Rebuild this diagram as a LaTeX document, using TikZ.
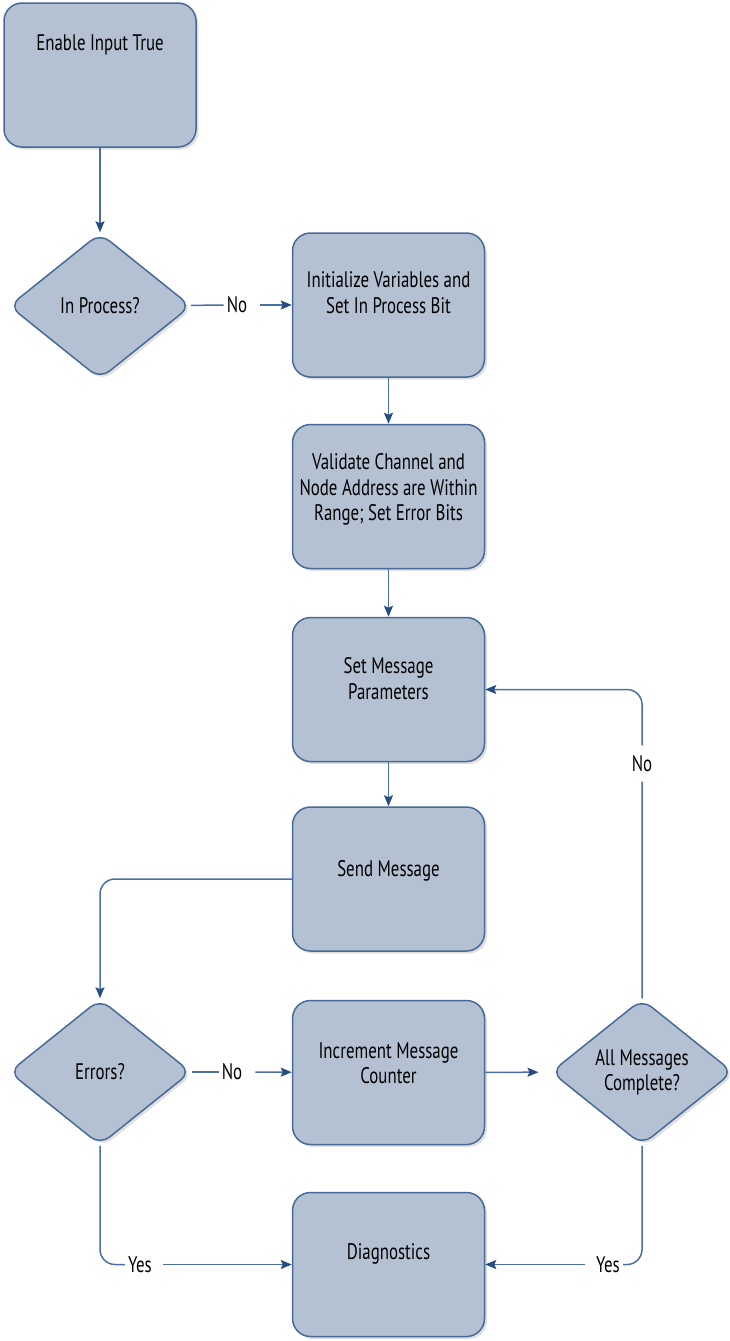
\documentclass[tikz,border=0pt]{standalone}
\usepackage{fontspec}
\setmainfont{PT Sans}[FakeStretch=0.75]
\usetikzlibrary{shapes.geometric}
\usetikzlibrary{arrows.meta}
\usetikzlibrary{shadows}

\definecolor{boxfill}{RGB}{180,193,211}
\definecolor{boxline}{RGB}{72,106,153}
\definecolor{flowline}{RGB}{74,112,163}
\definecolor{flowtip}{RGB}{40,76,130}

\begin{document}
\begin{tikzpicture}[x=1pt, y=-1pt,
    every node/.style={font=\fontsize{22.5}{25.5}\selectfont},
    stepbox/.style={draw=boxline, line width=1.5pt, fill=boxfill, rounded corners=18pt,
      drop shadow={shadow xshift=2.5pt, shadow yshift=-2.5pt, opacity=0.25},
      inner sep=0pt,
      execute at begin node={\begin{minipage}[c][144pt][t]{192pt}\vspace*{#1pt}\centering},
      execute at end node={\end{minipage}}},
    decision/.style={diamond, aspect=1.25, draw=boxline, line width=1.5pt, fill=boxfill,
      rounded corners=12pt, inner sep=0pt, minimum width=182pt, minimum height=146pt,
      align=center, drop shadow={shadow xshift=2.5pt, shadow yshift=-2.5pt, opacity=0.25}},
    lbl/.style={inner sep=3pt},
    link/.style={draw=flowline, line width=1.5pt},
    flow/.style={link, -{Stealth[length=11pt, width=9pt, inset=2pt, color=flowtip]}}]

  \useasboundingbox (0,0) rectangle (730,1341);

  % main column
  \node[stepbox=32] (enable) at (100,75) {Enable Input True};
  \node[decision] (inproc) at (100,306) {In Process?};
  \node[lbl] (no-a) at (237,305) {No};
  \node[stepbox=39] (init) at (388.5,305) {Initialize Variables and\\Set In Process Bit};
  \node[stepbox=29] (check) at (388.5,496.5) {Validate Channel and\\Node Address are Within\\Range; Set Error Bits};
  \node[stepbox=40] (params) at (388.5,689.5) {Set Message\\Parameters};
  \node[stepbox=53] (send) at (388.5,879) {Send Message};

  % bottom row
  \node[decision] (errors) at (100,1072) {Errors?};
  \node[lbl] (no-b) at (232,1072) {No};
  \node[stepbox=42] (incr) at (388.5,1072.5) {Increment Message\\Counter};
  \node[decision] (done) at (642,1072) {All Messages\\Complete?};
  \node[stepbox=51] (diag) at (388.5,1264.5) {Diagnostics};
  \node[lbl] (yes-a) at (140,1264.5) {Yes};
  \node[lbl] (yes-b) at (608,1264.5) {Yes};

  \draw[flow] (enable) -- (inproc);
  \draw[link] (inproc) -- (no-a);
  \draw[flow, shorten <=10pt] (no-a) -- (init);
  \draw[flow] (init) -- (check);
  \draw[flow] (check) -- (params);
  \draw[flow] (params) -- (send);
  \draw[flow, rounded corners=15pt] (send.west) -| (errors.north);

  \draw[link] (errors) -- (no-b);
  \draw[flow, shorten <=10pt] (no-b) -- (incr);
  \draw[flow, shorten >=12pt] (incr) -- (done);

  % loop back for the next message
  \draw[flow, rounded corners=15pt] (done.north) |- node[lbl, fill=white, inner ysep=10pt, pos=0.38] (no-c) {No} (params.east);

  \draw[link, rounded corners=15pt] (errors.south) |- (yes-a.west);
  \draw[flow, shorten <=8pt] (yes-a) -- (diag);
  \draw[link, rounded corners=15pt] (done.south) |- (yes-b.east);
  \draw[flow, shorten <=8pt] (yes-b) -- (diag);
\end{tikzpicture}
\end{document}
